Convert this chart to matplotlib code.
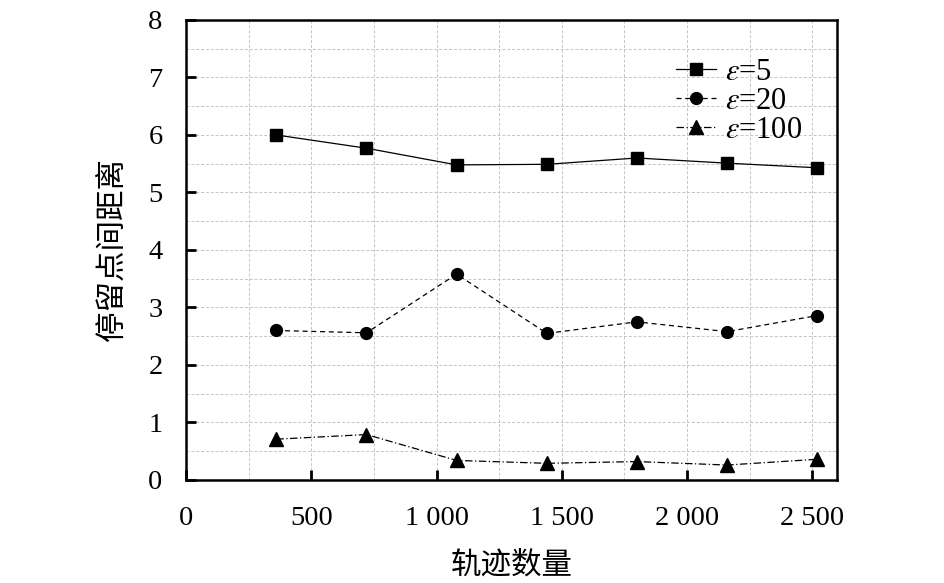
import matplotlib
matplotlib.use("Agg")
import matplotlib.pyplot as plt
from matplotlib.ticker import MultipleLocator, FuncFormatter

plt.rcParams['font.family'] = ['Liberation Serif', 'Noto Sans CJK SC']
plt.rcParams['mathtext.fontset'] = 'stix'

x_counts = [360, 720, 1080, 1440, 1800, 2160, 2520]
eps5 = [6.00, 5.77, 5.48, 5.49, 5.60, 5.51, 5.43]
eps20 = [2.60, 2.56, 3.58, 2.55, 2.75, 2.58, 2.86]
eps100 = [0.71, 0.79, 0.34, 0.29, 0.32, 0.26, 0.36]
labels = [r'$\varepsilon$=5', r'$\varepsilon$=20', r'$\varepsilon$=100']
xlabel = '轨迹数量'
ylabel = '停留点间距离'

fig = plt.figure(figsize=(9.45, 5.83), dpi=100)
ax = fig.add_axes([0.197, 0.1767, 0.689, 0.789])

ax.plot(x_counts, eps5, color='black', lw=0.9, ls='-', marker='s', ms=8.5, label=labels[0])
ax.plot(x_counts, eps20, color='black', lw=0.9, ls=(0, (4, 3)), marker='o', ms=8.5, label=labels[1])
ax.plot(x_counts, eps100, color='black', lw=0.9, ls=(0, (6, 2, 1, 2)), marker='^', ms=10, label=labels[2])

ax.set_xlim(0, 2600)
ax.set_ylim(0, 8)
ax.xaxis.set_major_locator(MultipleLocator(500))
ax.xaxis.set_minor_locator(MultipleLocator(250))
ax.yaxis.set_major_locator(MultipleLocator(1))
ax.yaxis.set_minor_locator(MultipleLocator(0.5))

def fmt(v, pos):
    v = int(round(v))
    return f"{v:,}".replace(',', ' ')
ax.xaxis.set_major_formatter(FuncFormatter(fmt))

ax.grid(which='both', color='#c4c4c4', ls=(0, (3, 2)), lw=0.7)
ax.set_axisbelow(True)
ax.tick_params(which='major', direction='in', length=7, width=2, labelsize=20.5,
               top=False, right=False)
ax.tick_params(axis='x', which='major', pad=19)
ax.tick_params(axis='y', which='major', pad=17)
ax.tick_params(which='minor', length=0)
for s in ax.spines.values():
    s.set_linewidth(1.8)

ax.set_xlabel(xlabel, fontsize=22, family=['Noto Sans CJK SC'], fontweight='light', labelpad=13)
ax.set_ylabel(ylabel, fontsize=22, family=['Noto Sans CJK SC'], fontweight='light', labelpad=15)

leg = ax.legend(loc='upper right', bbox_to_anchor=(0.965, 0.945), frameon=False, fontsize=22,
                handlelength=1.3, handletextpad=0.3, labelspacing=0.0, borderaxespad=0)

fig.savefig('out.png', dpi=100)
